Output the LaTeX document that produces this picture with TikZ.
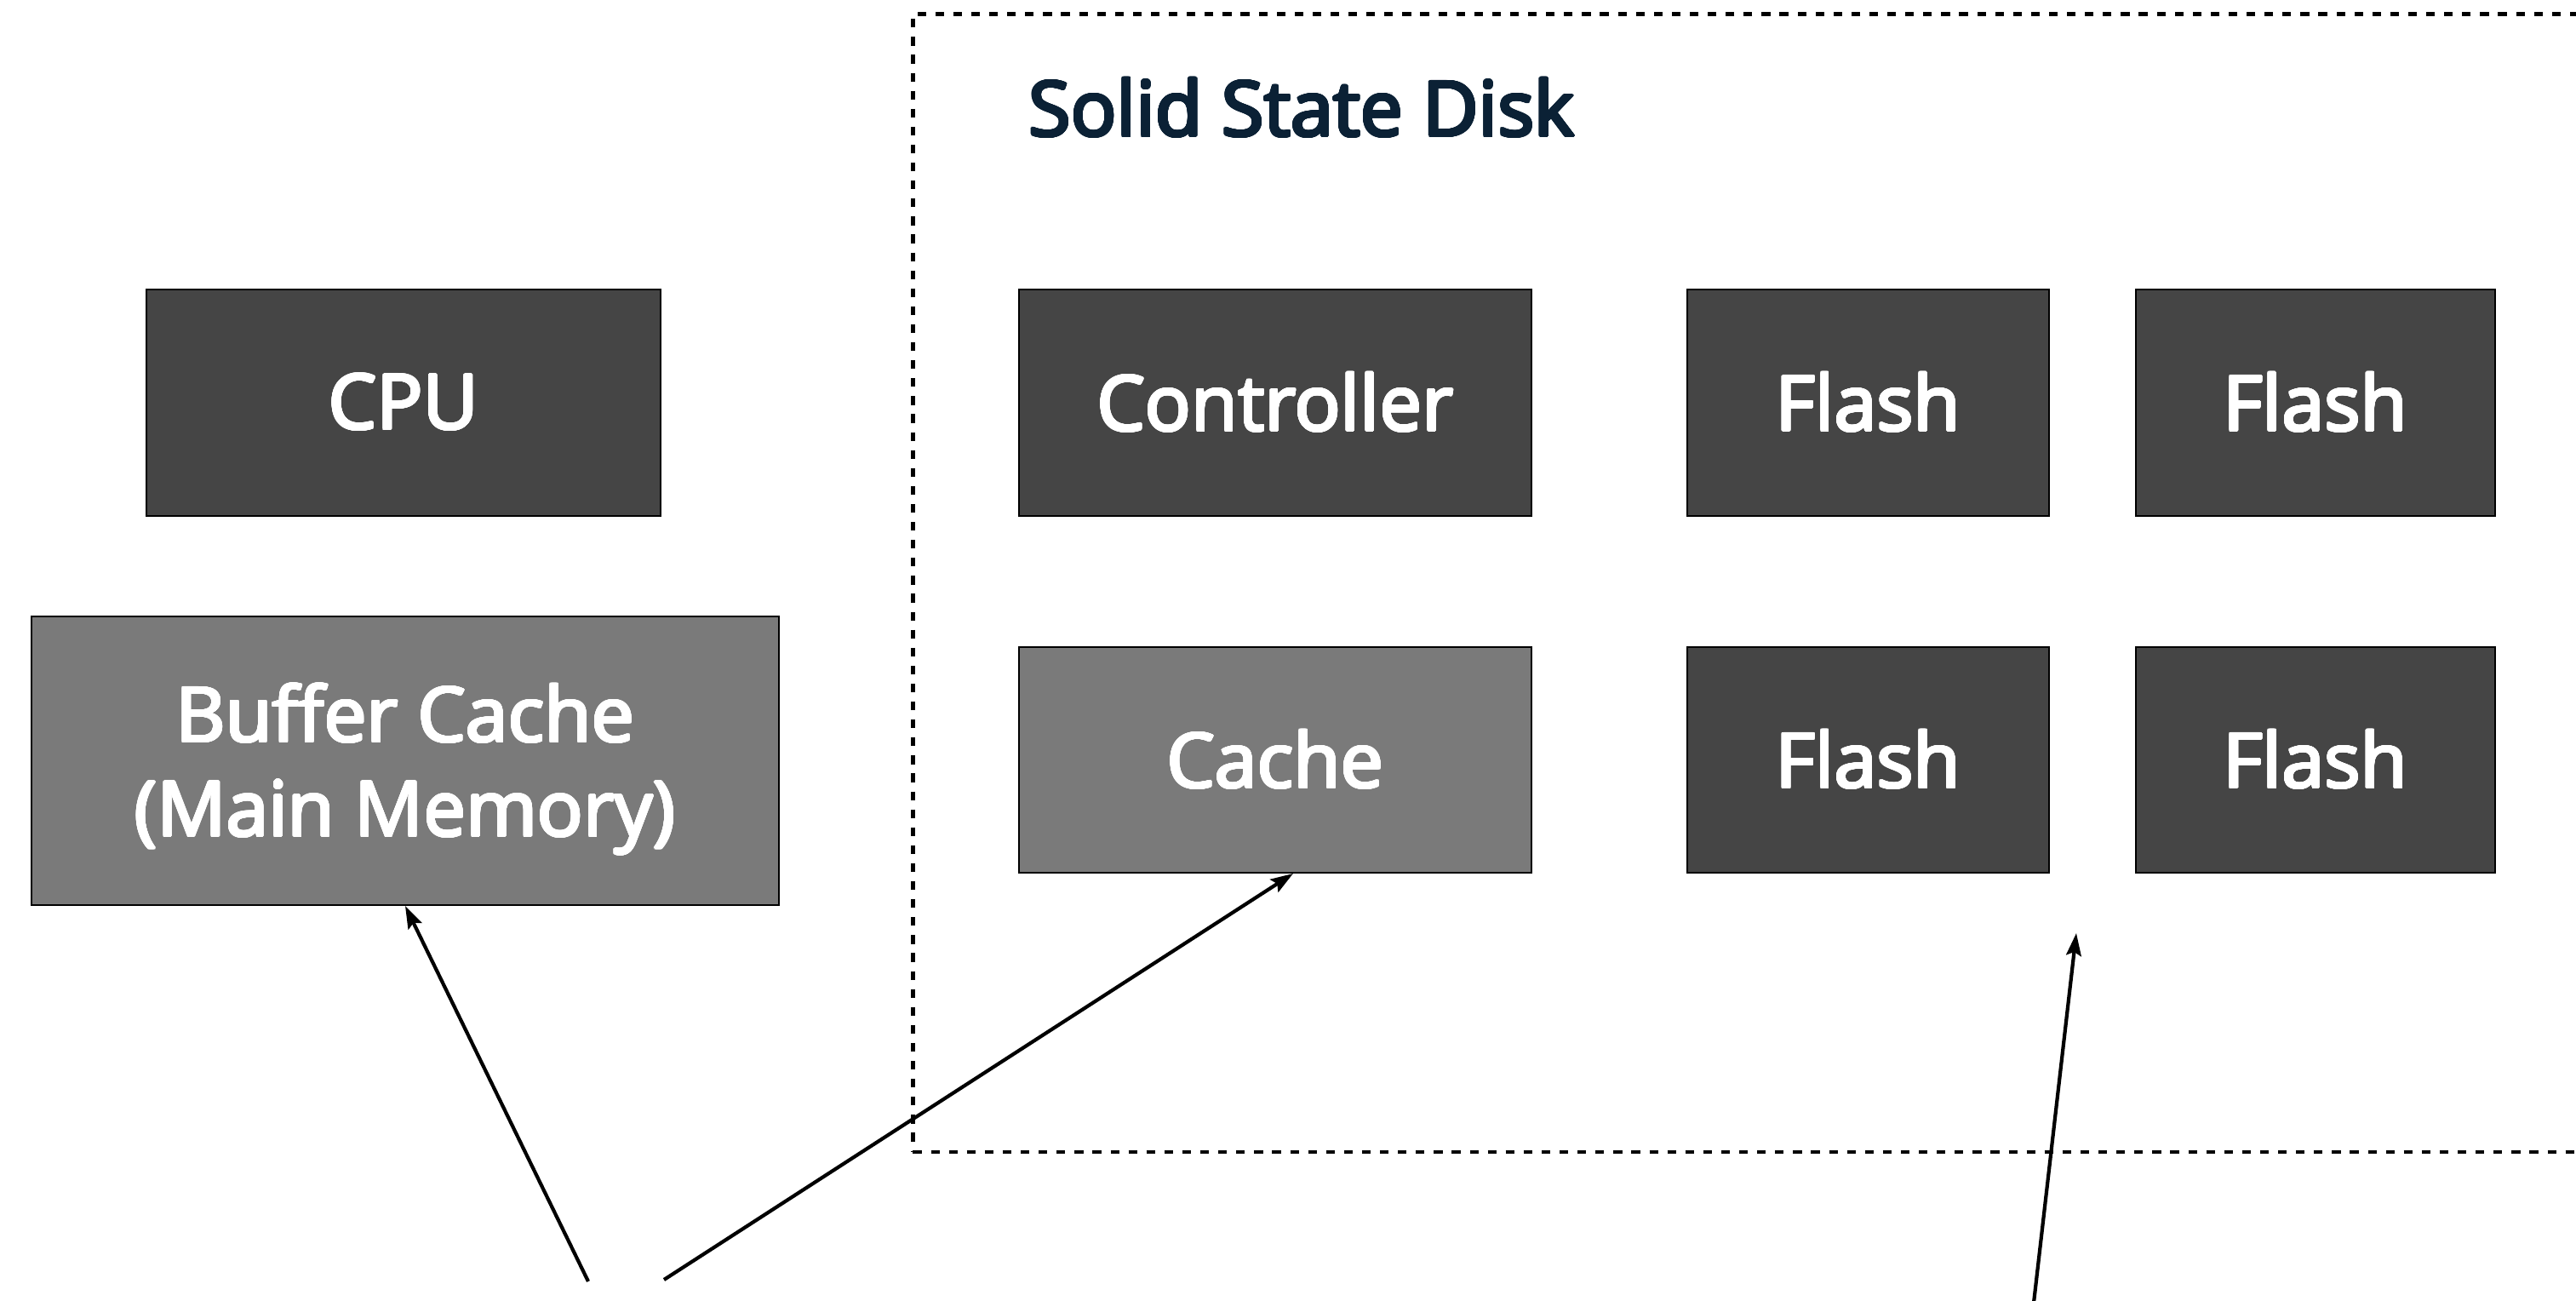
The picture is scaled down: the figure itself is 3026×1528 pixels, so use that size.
\documentclass[tikz,border=0pt]{standalone}
\usepackage{fontspec}
\setmainfont{Open Sans}
\usepackage{contour}
\contournumber{24}
\usetikzlibrary{arrows.meta,calc}
\definecolor{boxdark}{HTML}{454545}
\definecolor{boxmid}{HTML}{7A7A7A}
\definecolor{titlecol}{HTML}{0B2135}
\newcommand{\heavyw}[1]{\contourlength{0.4pt}\contour{white}{#1}}
\newcommand{\heavyt}[1]{\contourlength{0.5pt}\contour{titlecol}{#1}}
\begin{document}
\begin{tikzpicture}[x=0.01cm,y=-0.01cm,
  blk/.style={draw=black, line width=0.5pt, fill=boxdark, text=white, inner sep=0pt,
    font=\fontsize{25.5}{32}\selectfont, align=center, minimum height=2.66cm},
  mid/.style={blk, fill=boxmid},
  lbl/.style={text=white, inner sep=0pt, font=\fontsize{25.5}{31.5}\selectfont, align=center},
  ssdbox/.style={draw=black, line width=1.2pt, dash pattern=on 2.9pt off 3.1pt, inner sep=0pt},
  arr/.style={draw=black, line width=1.2pt, -{Stealth[length=7.5pt,width=5pt,inset=1.2pt]}}]
\useasboundingbox (0,0) rectangle (3026,1528);
\clip (0,0) rectangle (3026,1528);
\fill[white] (0,0) rectangle (3026,1528);

% SSD dashed frame (right edge lies beyond the picture)
\node[ssdbox, minimum width=20.60cm, minimum height=13.36cm] (ssd) at (2103,685) {};
\node[anchor=base west, text=titlecol, font=\fontsize{25.5}{30}\selectfont, inner sep=0pt] (title) at (1208,160) {\heavyt{Solid State Disk}};

% boxes
\node[blk, minimum width=6.04cm] (cpu) at (474,473) {\heavyw{CPU}};
\node[mid, minimum width=8.78cm, minimum height=3.39cm] (bc) at (476,893.5) {};
\node[lbl] (bctext) at (476,904) {\heavyw{Buffer Cache}\\\heavyw{(Main Memory)}};
\node[blk, minimum width=6.02cm] (ctrl) at (1498,473) {\heavyw{Controller}};
\node[mid, minimum width=6.02cm, minimum height=2.65cm] (cache) at (1498,892.5) {\heavyw{Cache}};
\node[blk, minimum width=4.25cm] (f1) at (2194.5,473) {\heavyw{Flash}};
\node[blk, minimum width=4.22cm] (f2) at (2720,473) {\heavyw{Flash}};
\node[blk, minimum width=4.25cm, minimum height=2.65cm] (f3) at (2194.5,892.5) {\heavyw{Flash}};
\node[blk, minimum width=4.22cm, minimum height=2.65cm] (f4) at (2720,892.5) {\heavyw{Flash}};

% arrows
\coordinate (a1) at (691,1505);
\coordinate (a2) at (780,1503);
\coordinate (a3) at (2389,1530);
\coordinate (t3) at (2439,1096);
\draw[arr] (a1) -- (bc.south);
\draw[arr] (a2) -- ([xshift=0.21cm]cache.south);
\draw[arr] (a3) -- (t3);
\end{tikzpicture}
\end{document}
